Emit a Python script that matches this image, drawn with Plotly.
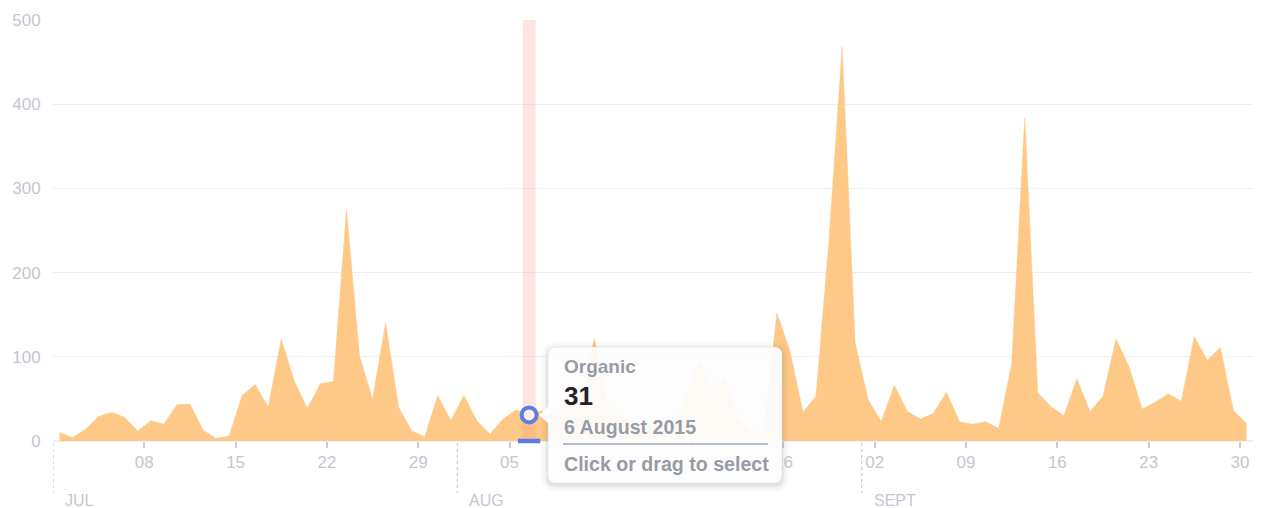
import pandas as pd
import plotly.graph_objects as go

# ---------------- data ----------------
jul_values = [10, 4, 14, 29, 34, 28, 12, 24, 20, 43, 44, 13, 3, 6, 54, 67, 40, 121, 71, 39,
              68, 71, 275, 101, 50, 140, 40, 12, 5, 54, 24]
aug_values = [54, 24, 8, 26, 37, 31, 36, 28, 42, 48, 122, 46, 30, 20, 17, 22, 14, 50, 95, 62,
              74, 28, 11, 12, 152, 107, 34, 53, 240, 468, 116]
sep_values = [49, 23, 66, 35, 26, 33, 58, 23, 20, 23, 15, 92, 384, 57, 41, 30, 74, 35, 53, 121,
              88, 38, 46, 56, 47, 124, 96, 111, 36, 21]
series_name = "Organic"

tick_dates = ["2015-07-08", "2015-07-15", "2015-07-22", "2015-07-29", "2015-08-05", "2015-08-12",
              "2015-08-19", "2015-08-26", "2015-09-02", "2015-09-09", "2015-09-16", "2015-09-23",
              "2015-09-30"]
tick_labels = ["08", "15", "22", "29", "05", "12", "19", "26", "02", "09", "16", "23", "30"]
month_starts = ["2015-07-01", "2015-08-01", "2015-09-01"]
month_labels = ["JUL", "AUG", "SEPT"]
y_ticks = [0, 100, 200, 300, 400, 500]

hover_day = "2015-08-06"
hover_label = "6 August 2015"

values = jul_values + aug_values + sep_values
dates = pd.date_range("2015-07-01 12:00", periods=len(values), freq="D")
hover_idx = list(dates.normalize()).index(pd.Timestamp(hover_day))
hover_value = values[hover_idx]

# ---------------- layout geometry ----------------
# the page body has an 8px default margin, so the figure is drawn shifted by 8px
OFF = 8
W, H = 1266, 508
PW, PH = 1200, 421
ML, MT = 53 - OFF, 20 - OFF
MR = W - ML - PW
MB = H - MT - PH

def px(X):  # screen x -> paper
    return (X - OFF - ML) / PW

def py(Y):  # screen y -> paper
    return (MT + PH - (Y - OFF)) / PH

AREA = "#FEC886"
GRID = "#EFEFF3"
TICKTXT = "#C3C7D0"
BLUE = "#5C7CE8"
GREY_TXT = "#979BA7"
FONT = "Liberation Sans, Arial, sans-serif"

fig = go.Figure()

fig.add_trace(go.Scatter(
    x=dates, y=values, mode="lines", fill="tozeroy",
    line=dict(color=AREA, width=0.5), fillcolor=AREA,
    name=series_name, hoverinfo="skip"))

# hover band (day of hovered point)
d0 = pd.Timestamp(hover_day)
d1 = d0 + pd.Timedelta(days=1)
fig.add_trace(go.Scatter(
    x=[d0, d0, d1, d1, d0], y=[0, y_ticks[-1], y_ticks[-1], 0, 0],
    mode="lines", fill="toself", fillcolor="rgba(248,140,120,0.22)",
    line=dict(width=0), hoverinfo="skip"))

# hover marker
fig.add_trace(go.Scatter(
    x=[dates[hover_idx]], y=[hover_value], mode="markers",
    marker=dict(symbol="circle", size=15, color="rgba(255,240,236,1)",
                line=dict(color=BLUE, width=4)),
    cliponaxis=False, hoverinfo="skip"))
fig.add_trace(go.Scatter(
    x=[dates[hover_idx]], y=[0], mode="markers",
    marker=dict(symbol="line-ew", size=16, line=dict(color=BLUE, width=4.5)),
    cliponaxis=False, hoverinfo="skip"))

shapes = []
# month dividers
for m in month_starts:
    shapes.append(dict(type="line", xref="x", yref="paper", x0=m, x1=m,
                       y0=py(443), y1=py(493),
                       line=dict(color="#C9CCD4", width=1.2, dash="3px,3px"), layer="above"))

def rounded_rect(X0, Y0, X1, Y1, r):
    rx, ry = r / PW, r / PH
    x0, x1 = px(X0), px(X1)
    y0, y1 = py(Y1), py(Y0)  # y0 bottom, y1 top in paper
    return (f"M {x0+rx} {y1} L {x1-rx} {y1} Q {x1} {y1} {x1} {y1-ry} "
            f"L {x1} {y0+ry} Q {x1} {y0} {x1-rx} {y0} L {x0+rx} {y0} "
            f"Q {x0} {y0} {x0} {y0+ry} L {x0} {y1-ry} Q {x0} {y1} {x0+rx} {y1} Z")

# tooltip box
BX0, BY0, BX1, BY1 = 548, 347, 782, 483
for g, a in [(7, 0.018), (5, 0.025), (3, 0.035), (1.5, 0.05)]:
    shapes.append(dict(type="path", xref="paper", yref="paper",
                       path=rounded_rect(BX0 - g, BY0 - g + 2, BX1 + g, BY1 + g + 2, 8 + g),
                       fillcolor=f"rgba(40,40,60,{a})", line=dict(width=0), layer="above"))
shapes.append(dict(type="path", xref="paper", yref="paper",
                   path=rounded_rect(BX0, BY0, BX1, BY1, 8),
                   fillcolor="rgba(255,255,255,0.93)", line=dict(color="rgba(225,226,232,0.6)", width=1),
                   layer="above"))
# pointer
shapes.append(dict(type="path", xref="paper", yref="paper",
                   path=f"M {px(549)} {py(406)} L {px(539)} {py(415)} L {px(549)} {py(424)} Z",
                   fillcolor="rgba(255,255,255,0.95)", line=dict(width=0), layer="above"))
# separator
shapes.append(dict(type="line", xref="paper", yref="paper", x0=px(563), x1=px(768),
                   y0=py(444), y1=py(444), line=dict(color="#9DA4B8", width=1.5), layer="above"))

annotations = []
for m, lab in zip(month_starts, month_labels):
    annotations.append(dict(x=m, y=py(500), xref="x", yref="paper", text=lab, showarrow=False,
                            xanchor="left", yanchor="middle", xshift=10,
                            font=dict(family=FONT, size=16, color=TICKTXT)))

def tip_text(txt, Y, size, color):
    annotations.append(dict(x=px(562), y=py(Y), xref="paper", yref="paper", text=txt,
                            showarrow=False, xanchor="left", yanchor="middle",
                            font=dict(family=FONT, size=size, color=color)))

tip_text(f"<b>{series_name}</b>", 366, 19, GREY_TXT)
tip_text(f"<b>{hover_value}</b>", 396, 26, "#222328")
tip_text(f"<b>{hover_label}</b>", 427, 19.6, GREY_TXT)
tip_text("<b>Click or drag to select</b>", 464, 19.6, GREY_TXT)

fig.update_layout(
    width=W, height=H, margin=dict(l=ML, r=MR, t=MT, b=MB, autoexpand=False),
    paper_bgcolor="white", plot_bgcolor="white", showlegend=False,
    hovermode=False, shapes=shapes, annotations=annotations,
    font=dict(family=FONT),
    xaxis=dict(type="date", range=["2015-07-01", "2015-10-01"],
               tickvals=tick_dates, ticktext=tick_labels,
               ticks="outside", ticklen=6, tickwidth=1.5, tickcolor="#C9CCD4",
               tickfont=dict(size=17, color=TICKTXT),
               showgrid=False, showline=False, automargin=False,
               zeroline=False, fixedrange=True),
    yaxis=dict(range=[0, 500], tickvals=y_ticks,
               tickfont=dict(size=17, color=TICKTXT),
               ticks="outside", ticklen=8, tickcolor="rgba(0,0,0,0)",
               showgrid=True, gridcolor=GRID, gridwidth=1, automargin=False,
               zeroline=True, zerolinecolor=GRID, showline=False, fixedrange=True),
)

fig.write_html("out.html", config={"displayModeBar": False})
